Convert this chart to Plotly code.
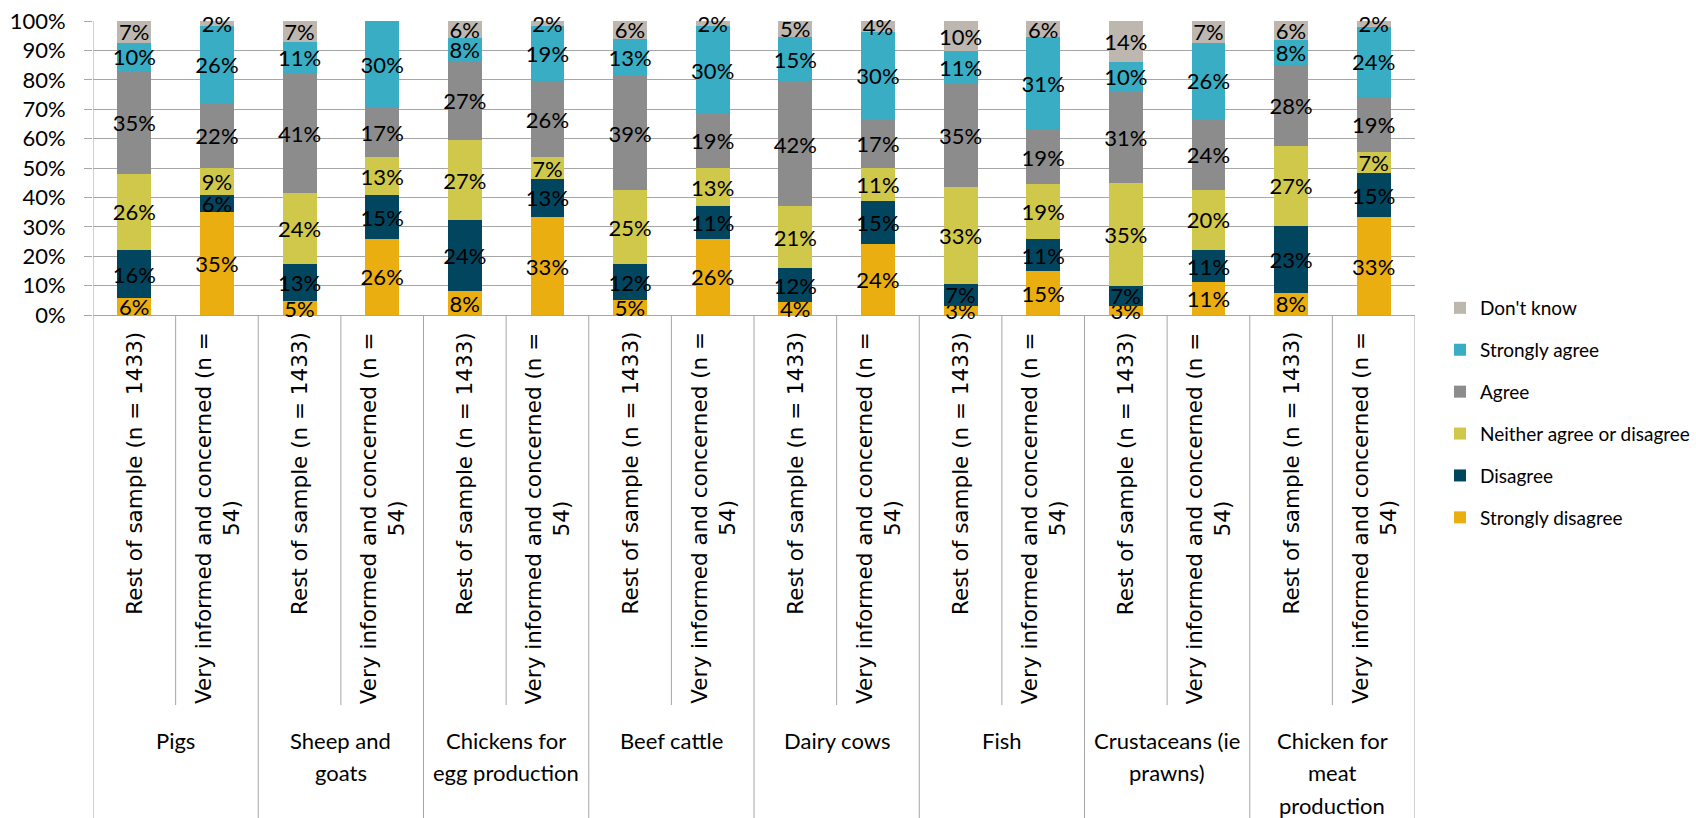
import plotly.graph_objects as go

groups = ["Pigs", "Sheep and<br>goats", "Chickens for<br>egg production", "Beef cattle",
          "Dairy cows", "Fish", "Crustaceans (ie<br>prawns)", "Chicken for<br>meat<br>production"]
subgroups = ["Rest of sample (n = 1433)", "Very informed and concerned (n =<br>54)"]

series_names = ["Strongly disagree", "Disagree", "Neither agree or disagree",
                "Agree", "Strongly agree", "Don't know"]
colors = ["#EBAE11", "#01455F", "#D0C84B", "#8C8C8C", "#38ADC4", "#BEB7AF"]

strongly_disagree = [5.7, 35.18, 4.6, 25.93, 8.0, 33.33, 5.1, 25.93,
                     4.3, 24.07, 3.2, 14.81, 3.2, 11.11, 7.6, 33.33]
disagree = [16.4, 5.56, 12.8, 14.81, 24.3, 12.96, 12.2, 11.11,
            11.6, 14.81, 7.3, 11.11, 6.8, 11.11, 22.8, 14.81]
neither = [26.0, 9.26, 24.1, 12.96, 27.2, 7.41, 25.2, 12.96,
           21.2, 11.11, 33.0, 18.52, 34.9, 20.37, 27.0, 7.41]
agree = [34.9, 22.22, 40.6, 16.67, 27.0, 25.93, 38.7, 18.52,
         42.1, 16.67, 35.3, 18.52, 31.1, 24.07, 27.8, 18.52]
strongly_agree = [9.6, 25.93, 10.8, 29.63, 7.8, 18.52, 12.8, 29.63,
                  15.4, 29.63, 11.0, 31.48, 10.2, 25.93, 8.4, 24.07]
dont_know = [7.4, 1.85, 7.1, 0.0, 5.7, 1.85, 6.0, 1.85,
             5.4, 3.70, 10.2, 5.56, 13.8, 7.41, 6.4, 1.85]

y_ticks = [0, 10, 20, 30, 40, 50, 60, 70, 80, 90, 100]
y_tick_labels = [f"{t}%" for t in y_ticks]

all_series = [strongly_disagree, disagree, neither, agree, strongly_agree, dont_know]

categories = [f"{g}|{s}" for g in groups for s in subgroups]

FONT = "Lato, 'Open Sans', sans-serif"
ROT_FONT = "'DejaVu Sans', Verdana, sans-serif"

fig = go.Figure()
for idx, (name, col, vals) in enumerate(zip(series_names, colors, all_series)):
    fig.add_trace(go.Bar(
        x=categories, y=vals, name=name,
        marker=dict(color=col, line=dict(width=0)),
        text=[f"{v:.0f}%" if v > 0 else "" for v in vals],
        textposition="inside", insidetextanchor="middle",
        textangle=0,
        textfont=dict(family=FONT, size=22, color="black"),
        cliponaxis=False,
        legendgroup=name,
        legendrank=len(series_names) - idx,
        hoverinfo="skip",
    ))

# geometry in pixels
W, H = 1696, 818
L, R, T, B = 93, 1415, 21, 315
ph = B - T


def py(px):
    return (B - px) / ph


def pxr(px):
    return (px - L) / (R - L)


shapes = []
n = len(categories)
for k in range(0, n + 1, 2):
    shapes.append(dict(type="line", xref="x", yref="paper", x0=k - 0.5, x1=k - 0.5,
                       y0=1 if k == 0 else 0, y1=py(H + 2), line=dict(color="#A6A6A6", width=1)))
for k in range(1, n, 2):
    shapes.append(dict(type="line", xref="x", yref="paper", x0=k - 0.5, x1=k - 0.5,
                       y0=0, y1=py(705), line=dict(color="#A6A6A6", width=1)))

annotations = []
for i, c in enumerate(categories):
    g, s = c.split("|")
    annotations.append(dict(x=i, xref="x", y=py(330), yref="paper", text=s,
                            textangle=-90, showarrow=False, xanchor="center", yanchor="top",
                            align="center",
                            font=dict(family=ROT_FONT, size=21.5, color="black")))
line_step = 32.5
for gi, g in enumerate(groups):
    for li, line in enumerate(g.split("<br>")):
        annotations.append(dict(x=2 * gi + 0.5, xref="x", y=py(740 + li * line_step), yref="paper",
                                text=line, showarrow=False, xanchor="center", yanchor="middle",
                                align="center",
                                font=dict(family=FONT, size=22, color="black")))

fig.update_layout(
    width=W, height=H,
    margin=dict(l=L, r=W - R, t=T, b=H - B, pad=0, autoexpand=False),
    paper_bgcolor="white", plot_bgcolor="white",
    barmode="stack", bargap=0.59,
    uniformtext=dict(minsize=22, mode="show"),
    xaxis=dict(type="category", showticklabels=False, showgrid=False, zeroline=False,
               showline=False, range=[-0.5, n - 0.5], fixedrange=True),
    yaxis=dict(range=[0, 100.01], tickvals=y_ticks, ticktext=y_tick_labels,
               showgrid=True, gridcolor="#A6A6A6", gridwidth=1,
               zeroline=True, zerolinecolor="#A6A6A6", zerolinewidth=1,
               showline=False, ticks="outside", ticklen=8, tickcolor="#A6A6A6",
               ticklabelstandoff=14,
               tickfont=dict(family=FONT, size=22, color="black"), fixedrange=True),
    legend=dict(x=pxr(1440), xanchor="left", y=py(289), yanchor="top",
                traceorder="grouped", tracegroupgap=14.2,
                font=dict(family=FONT, size=19, color="black"),
                bgcolor="rgba(0,0,0,0)", itemwidth=30),
    shapes=shapes,
    annotations=annotations,
    showlegend=True,
)

fig.write_html("out.html", config={"displayModeBar": False},
               post_script="document.body.style.margin='0';")
